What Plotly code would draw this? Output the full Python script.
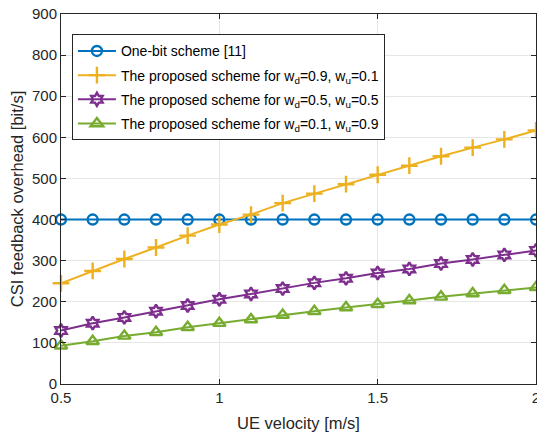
import plotly.graph_objects as go

velocity = [0.5, 0.6, 0.7, 0.8, 0.9, 1.0, 1.1, 1.2, 1.3, 1.4, 1.5, 1.6, 1.7, 1.8, 1.9, 2.0]
one_bit = [400] * 16
wd09 = [245, 275, 304, 332, 361, 388, 412, 440, 463, 486, 509, 531, 554, 575, 595, 617]
wd05 = [130, 148, 162, 177, 191, 206, 219, 232, 246, 257, 270, 280, 293, 303, 314, 325]
wd01 = [93, 104, 117, 126, 138, 148, 157, 168, 177, 186, 194, 203, 212, 220, 228, 235]

names = [
    "One-bit scheme [11]",
    "The proposed scheme for w<sub>d</sub>=0.9, w<sub>u</sub>=0.1",
    "The proposed scheme for w<sub>d</sub>=0.5, w<sub>u</sub>=0.5",
    "The proposed scheme for w<sub>d</sub>=0.1, w<sub>u</sub>=0.9",
]
colors = ["#0072BD", "#EDB120", "#7E2F8E", "#77AC30"]
symbols = ["circle-open", "cross-thin-open", "hexagram-open", "triangle-up-open"]
sizes = [10, 12, 10, 11]
series = [one_bit, wd09, wd05, wd01]

fig = go.Figure()
for i, (s, n, c, m, sz) in enumerate(zip(series, names, colors, symbols, sizes)):
    fig.add_trace(go.Scatter(
        x=velocity, y=s, name=n, mode="lines+markers",
        legendgroup=f"g{i}",
        line=dict(color=c, width=2),
        marker=dict(symbol=m, size=sz, color=c, line=dict(width=2.4, color=c)),
        cliponaxis=False,
    ))

fig.update_layout(
    width=537, height=435,
    margin=dict(l=61, r=1, t=14, b=51),
    paper_bgcolor="white", plot_bgcolor="white",
    font=dict(family="Liberation Sans, Arial, sans-serif", size=15, color="#262626"),
    showlegend=True,
    legend=dict(
        x=0.023, y=0.945, xanchor="left", yanchor="top",
        bgcolor="white", bordercolor="#262626", borderwidth=1,
        font=dict(size=14, color="#000000"),
        tracegroupgap=3, itemwidth=38,
    ),
)
fig.update_xaxes(
    range=[0.5, 2], tickvals=[0.5, 1, 1.5, 2], ticktext=["0.5", "1", "1.5", "2"],
    ticklabeloverflow="allow", automargin=False,
    title=dict(text="UE velocity [m/s]", standoff=12, font=dict(size=16.5)),
    showgrid=True, gridcolor="#E6E6E6", gridwidth=1,
    showline=True, linecolor="#262626", linewidth=1, mirror="ticks",
    ticks="inside", ticklen=5, tickcolor="#262626", zeroline=False,
)
fig.update_yaxes(
    range=[0, 900], tickvals=list(range(0, 901, 100)),
    ticklabeloverflow="allow", automargin=False,
    title=dict(text="CSI feedback overhead [bit/s]", standoff=4, font=dict(size=16.5)),
    showgrid=True, gridcolor="#E6E6E6", gridwidth=1,
    showline=True, linecolor="#262626", linewidth=1, mirror="ticks",
    ticks="inside", ticklen=5, tickcolor="#262626", zeroline=False,
)

fig.write_html("out.html")
